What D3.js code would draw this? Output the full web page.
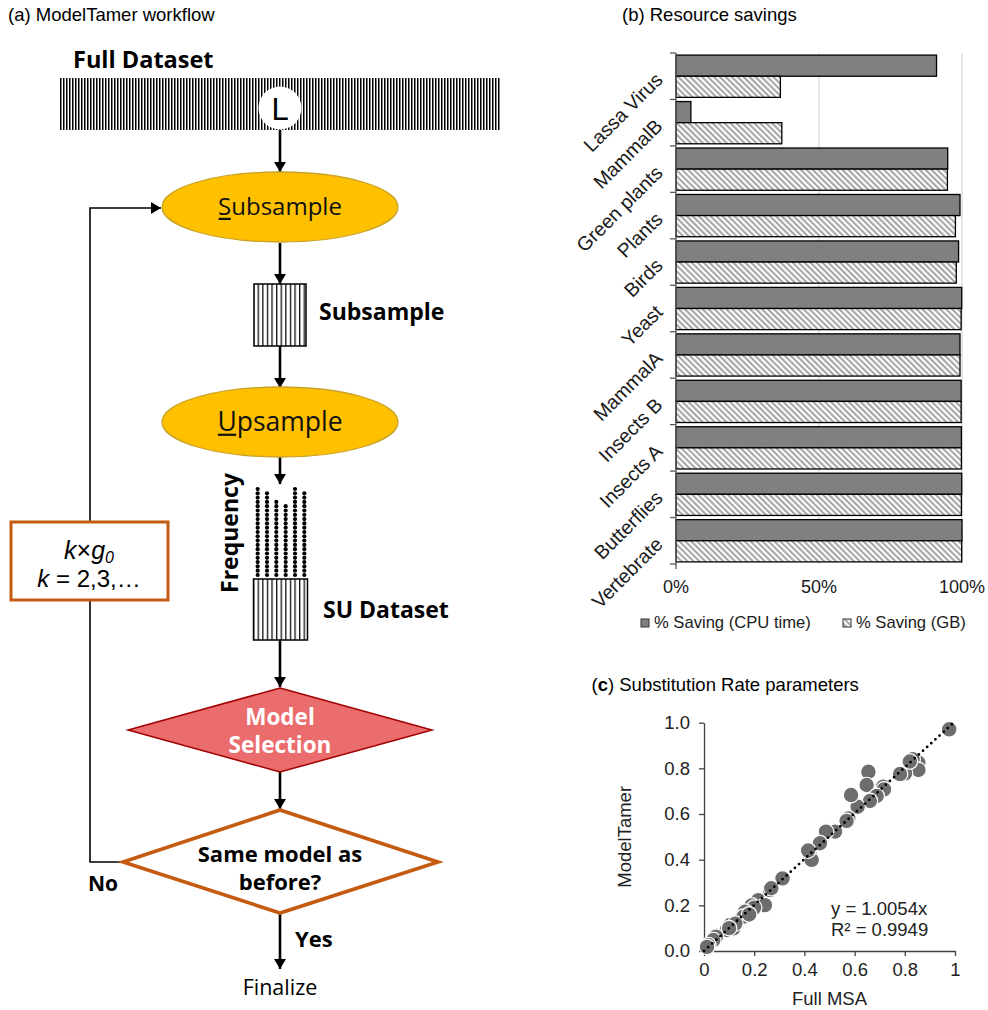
<!DOCTYPE html>
<html>
<head>
<meta charset="utf-8">
<script src="https://cdn.jsdelivr.net/npm/d3@7"></script>
<style>
  body { margin: 0; background: #fff; }
  svg { display: block; }
</style>
</head>
<body>
<svg id="fig" width="988" height="1010"></svg>
<script>
// ---------- (b) resource savings ----------
const categories = ["Lassa Virus", "MammalB", "Green plants", "Plants", "Birds", "Yeast",
                    "MammalA", "Insects B", "Insects A", "Butterflies", "Vertebrate"];
const cpuSaving = [0.911, 0.052, 0.950, 0.993, 0.988, 0.999, 0.993, 0.997, 0.998, 0.999, 1.000];
const gbSaving  = [0.365, 0.370, 0.949, 0.977, 0.980, 0.997, 0.993, 0.997, 0.998, 0.998, 0.999];
const savingTicks = [0, 0.5, 1];
const seriesNames = ["% Saving (CPU time)", "% Saving (GB)"];

// ---------- (c) substitution rate parameters ----------
const fullMSA    = [0.977, 0.854, 0.831, 0.854, 0.801, 0.781, 0.820, 0.655, 0.648, 0.714, 0.717, 0.688,
                    0.661, 0.612, 0.586, 0.575, 0.568, 0.522, 0.486, 0.462, 0.422, 0.429, 0.415, 0.313,
                    0.263, 0.268, 0.216, 0.243, 0.190, 0.200, 0.163, 0.157, 0.180, 0.104, 0.117, 0.125,
                    0.090, 0.100, 0.048, 0.037, 0.017, 0.012];
const modelTamer = [0.971, 0.825, 0.840, 0.793, 0.778, 0.775, 0.830, 0.785, 0.727, 0.720, 0.708, 0.679,
                    0.657, 0.632, 0.683, 0.581, 0.570, 0.523, 0.523, 0.472, 0.420, 0.399, 0.440, 0.318,
                    0.267, 0.275, 0.223, 0.201, 0.200, 0.190, 0.172, 0.150, 0.160, 0.114, 0.099, 0.120,
                    0.092, 0.100, 0.063, 0.048, 0.026, 0.018];
const trendSlope = 1.0054;
const trendR2 = 0.9949;
const rateXTicks = [0, 0.2, 0.4, 0.6, 0.8, 1];
const rateYTicks = [0, 0.2, 0.4, 0.6, 0.8, 1.0];

// ---------- (a) workflow: site-pattern frequencies after upsampling ----------
const freqCounts = [21, 20, 18, 17, 21, 20];

const svg = d3.select("#fig");
const defs = svg.append("defs");
svg.append("rect").attr("width", 988).attr("height", 1010).attr("fill", "#fff");

// patterns
const stripesFine = defs.append("pattern").attr("id", "stripesFine")
  .attr("patternUnits", "userSpaceOnUse").attr("width", 3).attr("height", 10);
stripesFine.append("rect").attr("width", 3).attr("height", 10).attr("fill", "#fff");
stripesFine.append("rect").attr("width", 1.5).attr("height", 10).attr("fill", "#000");

const stripesBox = defs.append("pattern").attr("id", "stripesBox")
  .attr("patternUnits", "userSpaceOnUse").attr("width", 4.6).attr("height", 10);
stripesBox.append("rect").attr("width", 4.6).attr("height", 10).attr("fill", "#fff");
stripesBox.append("rect").attr("width", 1.3).attr("height", 10).attr("fill", "#111");

const hatch = defs.append("pattern").attr("id", "hatch")
  .attr("patternUnits", "userSpaceOnUse").attr("width", 4.2).attr("height", 10)
  .attr("patternTransform", "rotate(-45)");
hatch.append("rect").attr("width", 4.2).attr("height", 10).attr("fill", "#fff");
hatch.append("rect").attr("width", 2.1).attr("height", 10).attr("fill", "#a6a6a6");

defs.append("marker").attr("id", "arrow")
  .attr("viewBox", "0 0 10 12").attr("markerWidth", 10).attr("markerHeight", 12)
  .attr("markerUnits", "userSpaceOnUse").attr("refX", 10).attr("refY", 6).attr("orient", "auto")
  .append("path").attr("d", "M0,0 L10,6 L0,12 Z").attr("fill", "#000");

const sansUI = "'Open Sans', 'Noto Sans', sans-serif";
const arial = "'Liberation Sans', Arial, sans-serif";

// panel titles
svg.append("text").attr("x", 8).attr("y", 20.5).attr("font-family", arial).attr("font-size", 18.5)
  .text("(a) ModelTamer workflow");
svg.append("text").attr("x", 622).attr("y", 20.5).attr("font-family", arial).attr("font-size", 18.5)
  .text("(b) Resource savings");
const tc = svg.append("text").attr("x", 591.5).attr("y", 690.5).attr("font-family", arial).attr("font-size", 18.5);
tc.append("tspan").text("(");
tc.append("tspan").attr("font-weight", "bold").text("c");
tc.append("tspan").text(") Substitution Rate parameters");

// =============== (a) workflow ===============
const fc = svg.append("g").attr("font-family", sansUI);
const cx = 280;

fc.append("text").attr("x", 73).attr("y", 68).attr("font-weight", 700).attr("font-size", 23.5)
  .text("Full Dataset");
fc.append("rect").attr("x", 60).attr("y", 78).attr("width", 440).attr("height", 52)
  .attr("fill", "url(#stripesFine)");
fc.append("circle").attr("cx", cx).attr("cy", 108).attr("r", 21.5).attr("fill", "#fff");
fc.append("text").attr("x", cx).attr("y", 119.5).attr("text-anchor", "middle")
  .attr("font-size", 31).attr("font-family", arial).text("L");

// vertical flow arrows
const flowArrows = [[130, 172], [243, 284], [346, 388], [456, 484], [640, 687], [772, 809], [913, 969]];
fc.selectAll("line.flow").data(flowArrows).join("line")
  .attr("x1", cx).attr("x2", cx).attr("y1", d => d[0]).attr("y2", d => d[1])
  .attr("stroke", "#000").attr("stroke-width", 2.6).attr("marker-end", "url(#arrow)");

// feedback loop
fc.append("path").attr("d", "M123,862 H90 V208 H161")
  .attr("fill", "none").attr("stroke", "#000").attr("stroke-width", 1.6).attr("marker-end", "url(#arrow)");

// ellipse steps, first letter underlined
function stepEllipse(cy, rest, first, size) {
  fc.append("ellipse").attr("cx", cx).attr("cy", cy).attr("rx", 118).attr("ry", 35)
    .attr("fill", "#FFC000").attr("stroke", "#C9A227").attr("stroke-width", 1.3);
  const t = fc.append("text").attr("x", cx).attr("y", cy + size * 0.35).attr("text-anchor", "middle")
    .attr("font-size", size).attr("fill", "#111");
  t.append("tspan").text(first);
  t.append("tspan").text(rest);
  const box = t.node().getExtentOfChar(0);
  fc.append("line").attr("x1", box.x + 0.5).attr("x2", box.x + box.width - 0.5)
    .attr("y1", cy + size * 0.35 + 3.5).attr("y2", cy + size * 0.35 + 3.5)
    .attr("stroke", "#111").attr("stroke-width", 2.2);
}
stepEllipse(207, "ubsample", "S", 24);
stepEllipse(422, "psample", "U", 26.5);

// subsample block
fc.append("rect").attr("x", 254).attr("y", 284).attr("width", 52).attr("height", 62)
  .attr("fill", "url(#stripesBox)").attr("stroke", "#000").attr("stroke-width", 1.5);
fc.append("text").attr("x", 319).attr("y", 320).attr("font-weight", 700).attr("font-size", 23)
  .text("Subsample");

// frequency dots above the SU dataset
const colX = d3.scaleBand().domain(d3.range(freqCounts.length)).range([253, 309]);
const dotY = d3.scaleLinear().domain([0, 20]).range([575, 489]);
const dotCells = freqCounts.flatMap((n, i) => d3.range(n).map(j => ({ i, j })));
fc.selectAll("circle.freq").data(dotCells).join("circle")
  .attr("cx", d => colX(d.i) + colX.bandwidth() / 2).attr("cy", d => dotY(d.j))
  .attr("r", 2.1).attr("fill", "#000");
fc.append("text").attr("transform", "translate(238,533) rotate(-90)").attr("text-anchor", "middle")
  .attr("font-weight", 700).attr("font-size", 23).text("Frequency");

fc.append("rect").attr("x", 253.5).attr("y", 579).attr("width", 54).attr("height", 61)
  .attr("fill", "url(#stripesBox)").attr("stroke", "#000").attr("stroke-width", 1.5);
fc.append("text").attr("x", 323).attr("y", 618).attr("font-weight", 700).attr("font-size", 23)
  .text("SU Dataset");

// model selection diamond
fc.append("path").attr("d", `M${cx},688 L432,730 L${cx},772 L128,730 Z`)
  .attr("fill", "#EB6C6C").attr("stroke", "#A00000").attr("stroke-width", 1.5);
fc.append("text").attr("x", cx).attr("y", 725).attr("text-anchor", "middle").attr("fill", "#fff")
  .attr("font-weight", 700).attr("font-size", 22.5).text("Model");
fc.append("text").attr("x", cx).attr("y", 753).attr("text-anchor", "middle").attr("fill", "#fff")
  .attr("font-weight", 700).attr("font-size", 22.5).text("Selection");

// decision diamond
fc.append("path").attr("d", `M${cx},810 L438,862 L${cx},913 L123,862 Z`)
  .attr("fill", "#fff").attr("stroke", "#C55A11").attr("stroke-width", 3.6);
fc.append("text").attr("x", cx).attr("y", 862).attr("text-anchor", "middle")
  .attr("font-weight", 700).attr("font-size", 22).text("Same model as");
fc.append("text").attr("x", cx).attr("y", 890).attr("text-anchor", "middle")
  .attr("font-weight", 700).attr("font-size", 22).text("before?");

fc.append("text").attr("x", 88).attr("y", 891).attr("font-weight", 700).attr("font-size", 21).text("No");
fc.append("text").attr("x", 295).attr("y", 947).attr("font-weight", 700).attr("font-size", 22).text("Yes");
fc.append("text").attr("x", cx).attr("y", 995).attr("text-anchor", "middle").attr("font-size", 21.5)
  .text("Finalize");

// k × g0 box on the loop
fc.append("rect").attr("x", 11).attr("y", 522).attr("width", 157).attr("height", 78)
  .attr("fill", "#fff").attr("stroke", "#C55A11").attr("stroke-width", 3);
const kg = fc.append("text").attr("x", 89).attr("y", 559).attr("text-anchor", "middle")
  .attr("font-family", arial).attr("font-size", 25);
kg.append("tspan").attr("font-style", "italic").text("k");
kg.append("tspan").text("×");
kg.append("tspan").attr("font-style", "italic").text("g");
kg.append("tspan").attr("font-style", "italic").attr("font-size", 16).attr("dy", 4).text("0");
const kk = fc.append("text").attr("x", 89).attr("y", 587).attr("text-anchor", "middle")
  .attr("font-family", arial).attr("font-size", 24);
kk.append("tspan").attr("font-style", "italic").text("k");
kk.append("tspan").text(" = 2,3,…");

// =============== (b) resource savings ===============
const gb = svg.append("g").attr("font-family", arial);
const xb = d3.scaleLinear().domain([0, 1]).range([676, 962]);
const yb = d3.scaleBand().domain(categories).range([53, 564]);
const sub = d3.scaleBand().domain(["cpu", "gb"]).range([0, yb.bandwidth()]).paddingOuter(0.1);

gb.selectAll("line.grid").data(savingTicks.slice(1)).join("line")
  .attr("x1", d => xb(d)).attr("x2", d => xb(d)).attr("y1", 53).attr("y2", 564)
  .attr("stroke", "#d9d9d9").attr("stroke-width", 1.3);

const rows = categories.map((c, i) => ({ c, cpu: cpuSaving[i], gb: gbSaving[i] }));
gb.selectAll("rect.cpu").data(rows).join("rect")
  .attr("x", xb(0)).attr("y", d => yb(d.c) + sub("cpu"))
  .attr("width", d => xb(d.cpu) - xb(0)).attr("height", sub.bandwidth())
  .attr("fill", "#808080").attr("stroke", "#000").attr("stroke-width", 1.3);
gb.selectAll("rect.gb").data(rows).join("rect")
  .attr("x", xb(0)).attr("y", d => yb(d.c) + sub("gb"))
  .attr("width", d => xb(d.gb) - xb(0)).attr("height", sub.bandwidth())
  .attr("fill", "url(#hatch)").attr("stroke", "#000").attr("stroke-width", 1.3);

// category axis with ticks at band edges
const edges = categories.map(c => yb(c)).concat([yb.range()[1]]);
gb.append("line").attr("x1", xb(0)).attr("x2", xb(0)).attr("y1", 53).attr("y2", 569)
  .attr("stroke", "#595959").attr("stroke-width", 1.3);
gb.selectAll("line.edge").data(edges).join("line")
  .attr("x1", xb(0) - 6).attr("x2", xb(0)).attr("y1", d => d).attr("y2", d => d)
  .attr("stroke", "#595959").attr("stroke-width", 1.3);
gb.selectAll("text.cat").data(categories).join("text")
  .attr("transform", d => `translate(659,${yb(d) + yb.bandwidth() / 2}) rotate(-45)`)
  .attr("text-anchor", "end").attr("dy", "0.35em").attr("font-size", 19.6).attr("fill", "#1a1a1a")
  .text(d => d);

gb.selectAll("text.pct").data(savingTicks).join("text")
  .attr("x", d => xb(d)).attr("y", 593).attr("text-anchor", "middle").attr("font-size", 18)
  .attr("fill", "#1a1a1a").text(d3.format(".0%"));

// legend
const legendItems = [{ name: seriesNames[0], fill: "#808080", x: 641 }, { name: seriesNames[1], fill: "url(#hatch)", x: 843 }];
const lg = gb.selectAll("g.leg").data(legendItems).join("g").attr("transform", d => `translate(${d.x},619)`);
lg.append("rect").attr("width", 8).attr("height", 8).attr("fill", d => d.fill)
  .attr("stroke", "#333").attr("stroke-width", 1);
lg.append("text").attr("x", 13).attr("y", 9).attr("font-size", 16.6).attr("fill", "#1a1a1a").text(d => d.name);

// =============== (c) substitution rates ===============
const gs = svg.append("g").attr("font-family", arial);
const xs = d3.scaleLinear().domain([0, 1]).range([704, 955]);
const ys = d3.scaleLinear().domain([0, 1]).range([951, 722.7]);

const yAxis = gs.append("g").attr("transform", `translate(${xs(0)},0)`)
  .call(d3.axisLeft(ys).tickValues(rateYTicks).tickFormat(d3.format(".1f")).tickSize(5).tickPadding(9).tickSizeOuter(0));
const xAxis = gs.append("g").attr("transform", `translate(0,${ys(0)})`)
  .call(d3.axisBottom(xs).tickValues(rateXTicks).tickFormat(d => d === 0 || d === 1 ? String(d) : d.toFixed(1)).tickSize(5).tickPadding(7).tickSizeOuter(0));
[yAxis, xAxis].forEach(a => {
  a.attr("font-family", arial).attr("font-size", 18.5);
  a.selectAll("path, line").attr("stroke", "#404040").attr("stroke-width", 1.3);
  a.selectAll("text").attr("fill", "#222");
});

const pts = fullMSA.map((x, i) => ({ x, y: modelTamer[i] }));
gs.selectAll("circle.pt").data(pts).join("circle")
  .attr("cx", d => xs(d.x)).attr("cy", d => ys(d.y)).attr("r", 7.8)
  .attr("fill", "#6f6c6c").attr("stroke", "#fff").attr("stroke-width", 1.2);

gs.append("line").attr("x1", xs(0)).attr("y1", ys(0)).attr("x2", xs(1)).attr("y2", ys(trendSlope))
  .attr("stroke", "#000").attr("stroke-width", 2.8).attr("stroke-linecap", "round")
  .attr("stroke-dasharray", "0,5.6");

gs.append("text").attr("x", 831).attr("y", 915).attr("font-size", 18.5).attr("fill", "#222")
  .text(`y = ${trendSlope.toFixed(4)}x`);
gs.append("text").attr("x", 831).attr("y", 936).attr("font-size", 18.5).attr("fill", "#222")
  .text(`R² = ${trendR2.toFixed(4)}`);

gs.append("text").attr("transform", `translate(631,${(ys(0) + ys(1)) / 2}) rotate(-90)`)
  .attr("text-anchor", "middle").attr("font-size", 18.5).attr("fill", "#222").text("ModelTamer");
gs.append("text").attr("x", (xs(0) + xs(1)) / 2).attr("y", 1005).attr("text-anchor", "middle")
  .attr("font-size", 18.5).attr("fill", "#222").text("Full MSA");
</script>
</body>
</html>
